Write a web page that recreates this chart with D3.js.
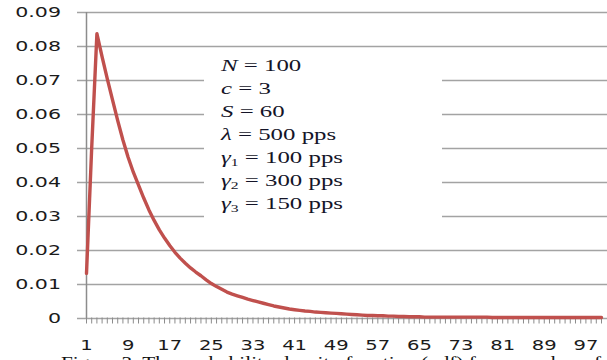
<!DOCTYPE html>
<html>
<head>
<meta charset="utf-8">
<script src="https://cdnjs.cloudflare.com/ajax/libs/d3/7.8.5/d3.min.js"></script>
<style>
  body { margin: 0; background: #fff; }
  svg { display: block; }
</style>
</head>
<body>
<div id="root"></div>
<script>
// category labels 1..100, every 8th one shown
const categories = d3.range(1, 101)
const tickLabels = [1, 9, 17, 25, 33, 41, 49, 57, 65, 73, 81, 89, 97]
const yTicks = [0, 0.01, 0.02, 0.03, 0.04, 0.05, 0.06, 0.07, 0.08, 0.09]

// pdf values
const pdfValues = [
  0.0130, 0.0500, 0.0836, 0.0768, 0.0703, 0.0641, 0.0580, 0.0523, 0.0472, 0.0428,
  0.0390, 0.0352, 0.0317, 0.0286, 0.0258, 0.0234, 0.0212, 0.0192, 0.0175, 0.0160,
  0.0146, 0.0134, 0.0123, 0.0111, 0.0100, 0.0091, 0.0083, 0.0075, 0.0069, 0.0064,
  0.0059, 0.0054, 0.0050, 0.0046, 0.0042, 0.0038, 0.0034, 0.0031, 0.0028, 0.0025,
  0.0023, 0.0021, 0.0019, 0.0018, 0.0016, 0.0015, 0.0014, 0.0013, 0.0012, 0.0011,
  0.0010, 0.0009, 0.0008, 0.0007, 0.0006, 0.0006, 0.0005, 0.0005, 0.0004, 0.0004,
  0.0003, 0.0003, 0.0002, 0.0002, 0.0002, 0.0001, 0.0001, 0.0001, 0.0001, 0.0001,
  0.0001, 0.0001, 0.0001, 0.0001, 0.0001, 0.0001, 0.0001, 0.0001, 0.0000, 0.0000,
  0.0000, 0.0000, 0.0000, 0.0000, 0.0000, 0.0000, 0.0000, 0.0000, 0.0000, 0.0000,
  0.0000, 0.0000, 0.0000, 0.0000, 0.0000, 0.0000, 0.0000, 0.0000, 0.0000, 0.0000
]

// parameter box
const paramSymbols = ["N", "c", "S", "λ", "γ", "γ", "γ"]
const paramSubs = ["", "", "", "", "1", "2", "3"]
const paramValues = ["100", "3", "60", "500 pps", "100 pps", "300 pps", "150 pps"]

const caption = "Figure 3. The probability density function (pdf) for a number of"

const W = 607, H = 360
const plot = { left: 86, right: 601.5, top: 12, bottom: 317.5 }
const stretch = 1.42   // the picture text is wide

const svg = d3.select("#root").append("svg")
  .attr("width", W)
  .attr("height", H)

svg.append("rect").attr("width", W).attr("height", H).attr("fill", "#fff")

const x = d3.scalePoint()
  .domain(categories)
  .range([plot.left + 0.5, plot.right])

const y = d3.scaleLinear()
  .domain([0, 0.09])
  .range([plot.bottom, plot.top])

// gridlines + outside tick marks
svg.append("g")
  .selectAll("line")
  .data(yTicks)
  .enter()
  .append("line")
  .attr("x1", plot.left - 9)
  .attr("x2", W)
  .attr("y1", d => Math.round(y(d)) + 0.5)
  .attr("y2", d => Math.round(y(d)) + 0.5)
  .attr("stroke", "#a3a3a3")
  .attr("stroke-width", 1.3)

// y labels
svg.append("g")
  .selectAll("text")
  .data(yTicks)
  .enter()
  .append("text")
  .attr("transform", d => "translate(61," + (y(d) + 5) + ") scale(" + stretch + ",1)")
  .attr("text-anchor", "end")
  .attr("font-family", "DejaVu Sans")
  .attr("font-size", "14.5px")
  .attr("fill", "#1b1b1b")
  .text(d => d === 0 ? "0" : d3.format(".2f")(d))

// white box behind the parameters (hides the gridlines)
svg.append("rect")
  .attr("x", 204)
  .attr("y", 48)
  .attr("width", 238)
  .attr("height", 188)
  .attr("fill", "#fff")

// y axis
svg.append("line")
  .attr("x1", plot.left + 0.5).attr("x2", plot.left + 0.5)
  .attr("y1", plot.top).attr("y2", plot.bottom + 0.5)
  .attr("stroke", "#8c8c8c")
  .attr("stroke-width", 1.5)

// x axis: ticks at every category
const xAxis = svg.append("g")
xAxis.selectAll("line")
  .data(categories)
  .enter()
  .append("line")
  .attr("x1", d => x(d)).attr("x2", d => x(d))
  .attr("y1", plot.bottom).attr("y2", plot.bottom + 6)
  .attr("stroke", "#8c8c8c")
  .attr("stroke-width", 1)

xAxis.selectAll("text")
  .data(tickLabels)
  .enter()
  .append("text")
  .attr("transform", d => "translate(" + x(d) + ",349.5) scale(1.45,1)")
  .attr("text-anchor", "middle")
  .attr("font-family", "DejaVu Sans")
  .attr("font-size", "13.5px")
  .attr("fill", "#1b1b1b")
  .text(d => d)

// the curve
const drawLine = d3.line()
  .x((d, i) => x(categories[i]))
  .y(d => y(d))

svg.append("path")
  .datum(pdfValues)
  .attr("d", drawLine)
  .attr("fill", "none")
  .attr("stroke", "#c0504d")
  .attr("stroke-width", 3.4)
  .attr("stroke-linejoin", "round")
  .attr("stroke-linecap", "round")

// parameter text
const params = svg.append("g")
paramSymbols.forEach((s, i) => {
  const t = params.append("text")
    .attr("transform", "translate(221," + (71 + i * 23) + ") scale(" + stretch + ",1)")
    .attr("font-family", "Liberation Serif")
    .attr("font-size", "17.5px")
    .attr("fill", "#141428")
  t.append("tspan").attr("font-style", "italic").text(s)
  if (paramSubs[i]) {
    t.append("tspan").attr("font-size", "11px").attr("dy", 3).text(paramSubs[i])
    t.append("tspan").attr("dy", -3).text(" = " + paramValues[i])
  } else {
    t.append("tspan").text(" = " + paramValues[i])
  }
})

// caption, cut off by the picture edge
svg.append("text")
  .attr("x", 61)
  .attr("y", 368)
  .attr("textLength", 540)
  .attr("lengthAdjust", "spacingAndGlyphs")
  .attr("font-family", "Liberation Serif")
  .attr("font-size", "16px")
  .attr("fill", "#111")
  .text(caption)
</script>
</body>
</html>
